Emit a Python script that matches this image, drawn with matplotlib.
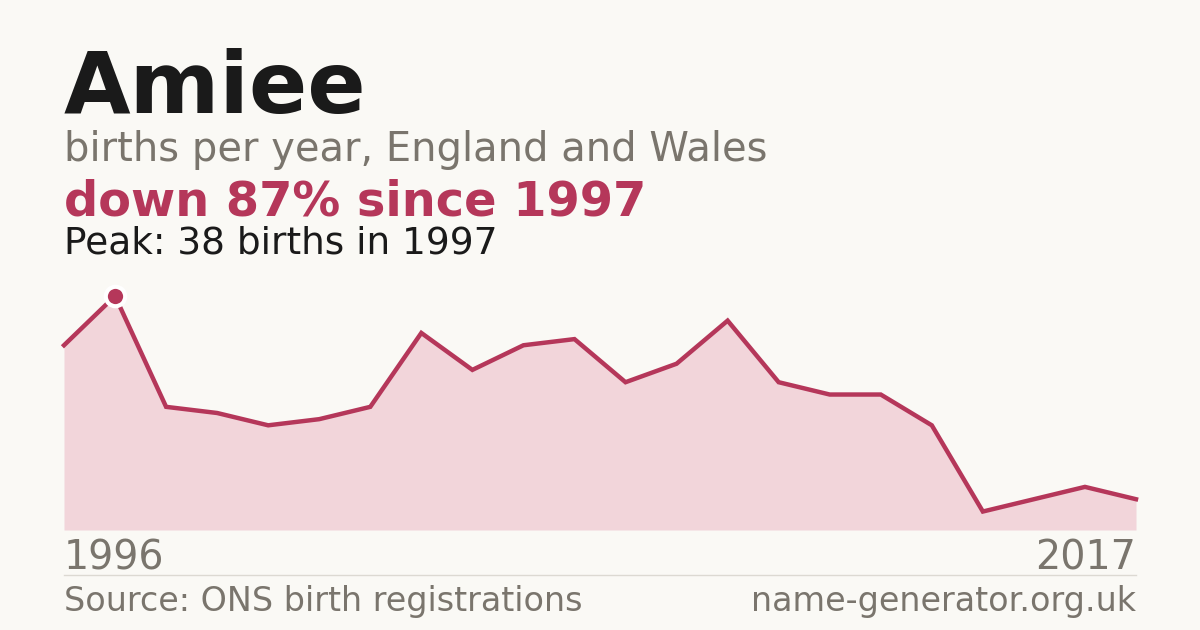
import numpy as np
import matplotlib
matplotlib.use('Agg')
import matplotlib.pyplot as plt

plt.rcParams['font.family'] = ['DejaVu Sans']

# data
years = list(range(1996, 2018))
births = [30, 38, 20, 19, 17, 18, 20, 32, 26, 30, 31, 24, 27, 34, 24, 22, 22, 17, 3, 5, 7, 5]

bg = '#faf9f5'
red = '#b5375a'
fill = '#f2d5da'
grey = '#7a756d'
dark = '#1a1a1a'

W, H = 1200, 630
fig = plt.figure(figsize=(12, 6.3), dpi=100, facecolor=bg)

# chart area
ax = fig.add_axes([64 / W, (H - 530) / H, (1136 - 64) / W, (530 - 296) / H])
ax.set_facecolor(bg)
ax.fill_between(years, births, 0, color=fill, lw=0)
ax.plot(years, births, color=red, lw=3.2, solid_joinstyle='miter', clip_on=False)
peak = int(np.argmax(births))
ax.plot(years[peak], births[peak], 'o', ms=14, mfc=red, mec='white', mew=3, clip_on=False, zorder=5)
ax.set_xlim(years[0], years[-1])
ax.set_ylim(0, max(births))
ax.axis('off')

# text
fig.text(64 / W, 1 - 113 / H, 'Amiee', fontsize=62, fontweight='bold', color=dark, va='baseline')
fig.text(64 / W, 1 - 161 / H, 'births per year, England and Wales', fontsize=28.8, color=grey, va='baseline')
drop = round((1 - births[-1] / births[peak]) * 100)
fig.text(64 / W, 1 - 215 / H, 'down %d%% since %d' % (drop, years[peak]), fontsize=34.5, fontweight='bold',
         color=red, va='baseline')
fig.text(64 / W, 1 - 254 / H, 'Peak: %d births in %d' % (births[peak], years[peak]), fontsize=27,
         color=dark, va='baseline')

fig.text(64 / W, 1 - 570 / H, str(years[0]), fontsize=28.5, color=grey, va='baseline')
fig.text(1136 / W, 1 - 570 / H, str(years[-1]), fontsize=28.5, color=grey, va='baseline', ha='right')

fig.add_artist(plt.Line2D([64 / W, 1136 / W], [1 - 575 / H, 1 - 575 / H], color='#dcd9d2', lw=1))

fig.text(64 / W, 1 - 611 / H, 'Source: ONS birth registrations', fontsize=24, color=grey, va='baseline')
fig.text(1136 / W, 1 - 611 / H, 'name-generator.org.uk', fontsize=24, color=grey, va='baseline', ha='right')

fig.savefig('out.png', dpi=100, facecolor=bg)
